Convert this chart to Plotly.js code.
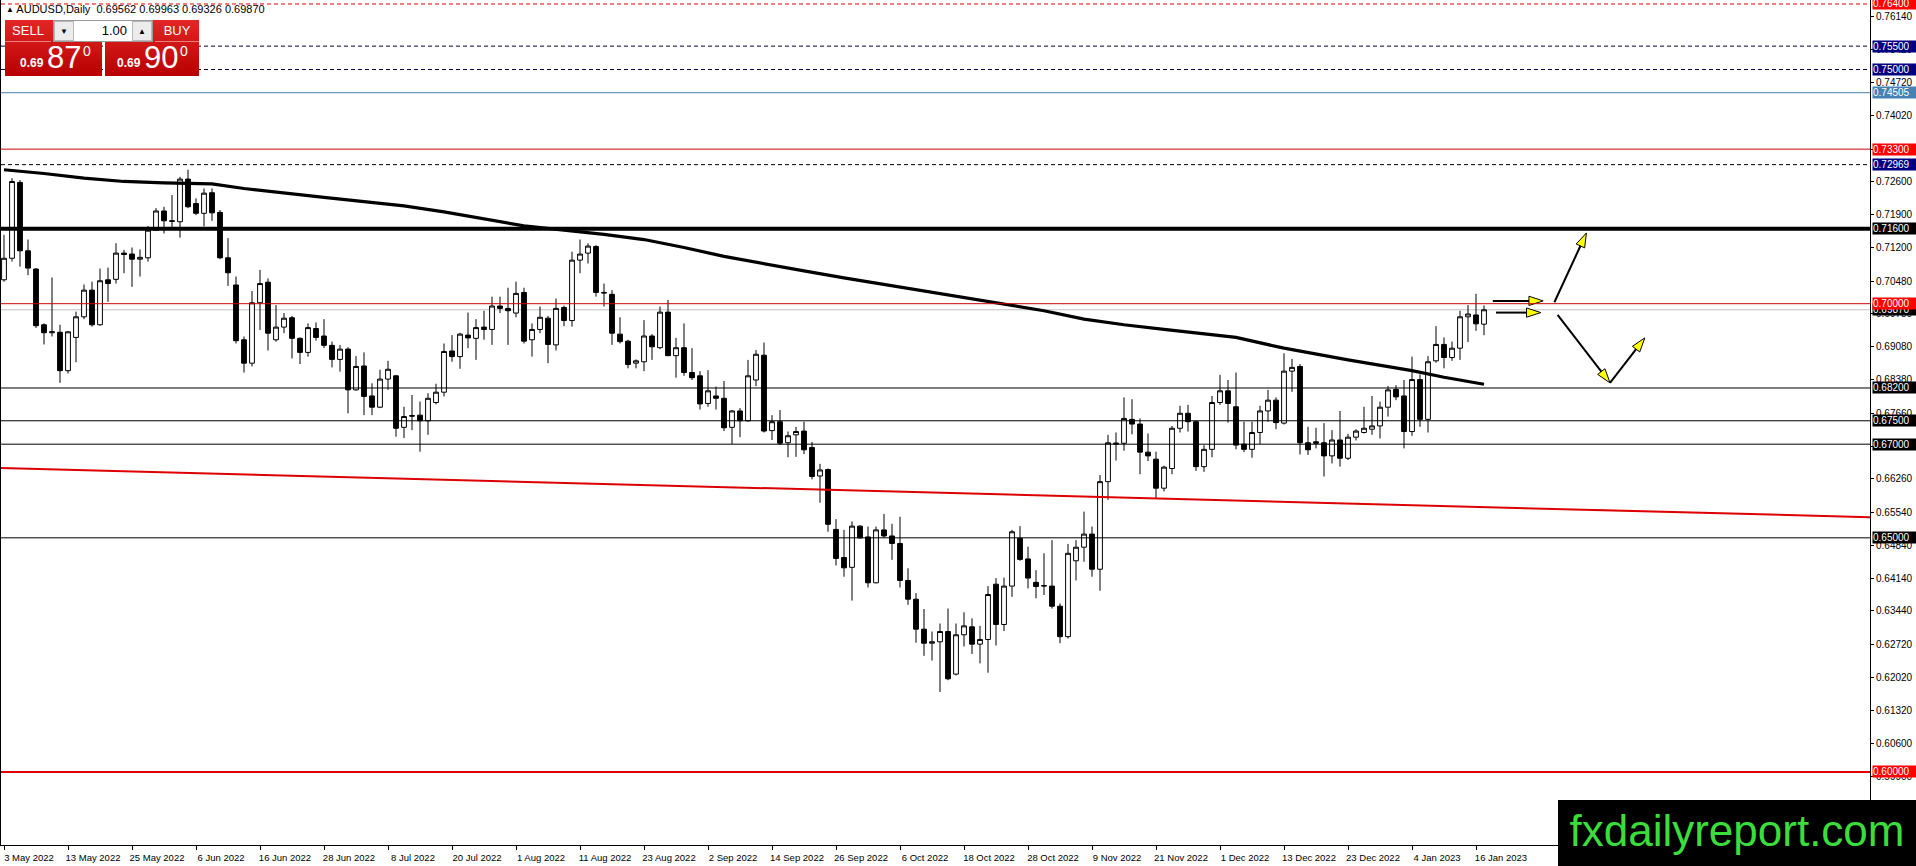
<!DOCTYPE html>
<html><head><meta charset="utf-8">
<script src="https://cdn.plot.ly/plotly-3.0.1.min.js"></script>
<style>
html,body{margin:0;padding:0;background:#fff;overflow:hidden;width:1916px;height:866px;}
#chart{position:absolute;left:0;top:0;width:1916px;height:866px;}
.ov{position:absolute;font-family:Tahoma,'Liberation Sans','DejaVu Sans',Arial,sans-serif;white-space:nowrap;}
.blk{background:linear-gradient(#e32626,#b80000);}
.lbl{color:#fff;font-size:13px;text-align:center;line-height:21px;border-bottom:1px solid rgba(255,255,255,0.45);}
.sm{color:#fff;font-size:12px;font-weight:bold;}
.big{color:#fff;font-size:31px;line-height:31px;}
.sup{color:#fff;font-size:14px;}
.lot{background:#fff;border:1px solid #9a9a9a;box-sizing:border-box;}
.lb{position:absolute;top:0;width:20px;height:20px;background:#ececec;border:1px solid #b8b8b8;box-sizing:border-box;font-size:8px;text-align:center;line-height:19px;color:#000;}
#hdr{left:6px;top:3px;font-size:11px;color:#000;}
#wm{left:1558px;top:800px;width:358px;height:66px;background:#000;color:#3add3a;font-family:'Liberation Sans',Arial,sans-serif;font-size:44px;line-height:62px;text-align:center;}
</style></head><body>
<div id="chart"></div>
<div id="hdr" class="ov"></div>
<div class="ov blk" style="left:5px;top:20px;width:97px;height:56px;"></div>
<div class="ov blk" style="left:105px;top:20px;width:94px;height:56px;"></div>
<div class="ov lbl" style="left:5px;top:20px;width:46px;height:21px;">SELL</div>
<div class="ov lbl" style="left:155px;top:20px;width:44px;height:21px;">BUY</div>
<div class="ov lot" style="left:53px;top:20px;width:100px;height:22px;">
  <div class="lb" style="left:0;">&#9660;</div>
  <div style="position:absolute;right:25px;top:2px;font-size:13px;color:#000;">1.00</div>
  <div class="lb" style="right:0;">&#9650;</div>
</div>
<div class="ov sm" id="sellSmall" style="left:20px;top:56px;"></div>
<div class="ov big" id="sellBig" style="left:47px;top:42px;"></div>
<div class="ov sup" id="sellSup" style="left:83px;top:43px;"></div>
<div class="ov sm" id="buySmall" style="left:117px;top:56px;"></div>
<div class="ov big" id="buyBig" style="left:144px;top:42px;"></div>
<div class="ov sup" id="buySup" style="left:180px;top:43px;"></div>
<div id="wm" class="ov">fxdailyreport.com</div>
<script>
// ---------------- DATA ----------------
const symbol = "AUDUSD,Daily";
const firstDate = "2022-05-03";
const open = [
0.7051,0.7097,0.7259,0.7113,0.7074,0.6955,0.6938,0.6939,0.6857,0.6928,
0.6972,0.7029,0.6955,0.7051,0.7052,0.7108,0.7106,0.7095,0.7098,0.7157,
0.7198,0.7177,0.7175,0.7266,0.7214,0.7193,0.7237,0.7195,0.7098,0.7040,
0.6923,0.6873,0.7002,0.7046,0.6923,0.6950,0.6970,0.6926,0.6896,0.6947,
0.6931,0.6911,0.6881,0.6903,0.6816,0.6867,0.6803,0.6779,0.6839,0.6846,
0.6736,0.6761,0.6762,0.6750,0.6789,0.6811,0.6899,0.6887,0.6933,0.6926,
0.6950,0.6945,0.6995,0.6990,0.6980,0.7024,0.6923,0.6945,0.6969,0.6912,
0.6992,0.6964,0.7093,0.7108,0.7122,0.7024,0.7020,0.6935,0.6920,0.6873,
0.6876,0.6931,0.6906,0.6982,0.6889,0.6906,0.6853,0.6846,0.6787,0.6803,
0.6798,0.6736,0.6771,0.6750,0.6837,0.6890,0.6729,0.6748,0.6703,0.6720,
0.6728,0.6693,0.6632,0.6646,0.6518,0.6458,0.6437,0.6525,0.6502,0.6404,
0.6517,0.6504,0.6488,0.6409,0.6369,0.6305,0.6275,0.6278,0.6300,0.6209,
0.6293,0.6310,0.6273,0.6283,0.6401,0.6315,0.6397,0.6499,0.6455,0.6405,
0.6397,0.6397,0.6354,0.6289,0.6451,0.6480,0.6508,0.6433,0.6620,0.6700,
0.6702,0.6753,0.6743,0.6683,0.6668,0.6606,0.6648,0.6734,0.6766,0.6748,
0.6652,0.6689,0.6789,0.6814,0.6780,0.6700,0.6689,0.6725,0.6771,0.6794,
0.6745,0.6856,0.6866,0.6703,0.6705,0.6703,0.6675,0.6709,0.6670,0.6715,
0.6725,0.6732,0.6739,0.6779,0.6817,0.6803,0.6727,0.6838,0.6753,0.6878,
0.6913,0.6885,0.6905,0.6972,0.6976,0.69562];
const high = [
0.7147,0.7268,0.7264,0.7137,0.7076,0.6958,0.7056,0.6955,0.6941,0.6983,
0.7041,0.7047,0.7075,0.7077,0.7129,0.7115,0.7120,0.7116,0.7166,0.7204,
0.7207,0.7232,0.7271,0.7286,0.7225,0.7246,0.7246,0.7200,0.7140,0.7058,
0.6930,0.7027,0.7072,0.7054,0.6997,0.6980,0.6974,0.6928,0.6958,0.6960,
0.6967,0.6919,0.6912,0.6907,0.6888,0.6896,0.6830,0.6859,0.6878,0.6848,
0.6780,0.6805,0.6791,0.6809,0.6829,0.6915,0.6933,0.6938,0.6981,0.6967,
0.6985,0.7015,0.7015,0.7034,0.7047,0.7034,0.6958,0.6994,0.6974,0.7011,
0.6996,0.7111,0.7137,0.7129,0.7125,0.7043,0.7029,0.6971,0.6923,0.6881,
0.6965,0.6935,0.6994,0.7008,0.6927,0.6958,0.6905,0.6856,0.6858,0.6823,
0.6835,0.6773,0.6777,0.6880,0.6901,0.6917,0.6762,0.6773,0.6727,0.6737,
0.6748,0.6705,0.6658,0.6648,0.6540,0.6517,0.6535,0.6527,0.6524,0.6524,
0.6551,0.6530,0.6545,0.6435,0.6382,0.6348,0.6300,0.6317,0.6349,0.6317,
0.6341,0.6328,0.6312,0.6397,0.6414,0.6415,0.6517,0.6525,0.6481,0.6431,
0.6467,0.6495,0.6360,0.6487,0.6495,0.6556,0.6524,0.6634,0.6720,0.6725,
0.6800,0.6796,0.6755,0.6723,0.6684,0.6654,0.6739,0.6782,0.6784,0.6750,
0.6698,0.6803,0.6848,0.6837,0.6853,0.6748,0.6748,0.6782,0.6816,0.6800,
0.6894,0.6882,0.6871,0.6737,0.6735,0.6745,0.6730,0.6771,0.6722,0.6732,
0.6780,0.6803,0.6791,0.6824,0.6826,0.6837,0.6887,0.6849,0.6888,0.6952,
0.6928,0.6919,0.6985,0.6997,0.7021,0.69963];
const low = [
0.7047,0.7090,0.7079,0.7061,0.6948,0.6913,0.6930,0.6831,0.6851,0.6875,
0.6967,0.6951,0.6953,0.7004,0.7043,0.7065,0.7036,0.7058,0.7090,0.7156,
0.7150,0.7157,0.7141,0.7204,0.7189,0.7165,0.7177,0.7095,0.7038,0.6915,
0.6853,0.6866,0.6944,0.6900,0.6919,0.6937,0.6883,0.6871,0.6887,0.6921,
0.6905,0.6864,0.6855,0.6766,0.6814,0.6762,0.6762,0.6777,0.6816,0.6716,
0.6713,0.6730,0.6684,0.6720,0.6785,0.6802,0.6876,0.6861,0.6905,0.6880,
0.6923,0.6912,0.6980,0.6912,0.6971,0.6915,0.6887,0.6937,0.6873,0.6900,
0.6952,0.6951,0.7065,0.7086,0.7015,0.6994,0.6912,0.6915,0.6862,0.6862,
0.6856,0.6880,0.6903,0.6888,0.6842,0.6846,0.6837,0.6774,0.6780,0.6774,
0.6728,0.6700,0.6715,0.6748,0.6824,0.6725,0.6709,0.6698,0.6672,0.6673,
0.6679,0.6625,0.6575,0.6513,0.6441,0.6417,0.6366,0.6498,0.6394,0.6403,
0.6500,0.6453,0.6394,0.6357,0.6276,0.6248,0.6238,0.6171,0.6196,0.6206,
0.6268,0.6252,0.6232,0.6212,0.6270,0.6301,0.6374,0.6451,0.6392,0.6371,
0.6378,0.6349,0.6275,0.6285,0.6409,0.6449,0.6417,0.6387,0.6581,0.6665,
0.6686,0.6721,0.6636,0.6664,0.6584,0.6599,0.6636,0.6725,0.6727,0.6643,
0.6641,0.6672,0.6784,0.6746,0.6689,0.6683,0.6671,0.6700,0.6748,0.6732,
0.6742,0.6812,0.6678,0.6677,0.6691,0.6631,0.6659,0.6652,0.6666,0.6708,
0.6723,0.6720,0.6712,0.6759,0.6794,0.6691,0.6718,0.6737,0.6725,0.6874,
0.6862,0.6878,0.6880,0.6918,0.6942,0.69326];
const close = [
0.7097,0.7261,0.7113,0.7076,0.6953,0.6938,0.6940,0.6857,0.6940,0.6972,
0.7029,0.6955,0.7049,0.7043,0.7108,0.7105,0.7095,0.7099,0.7157,0.7198,
0.7177,0.7176,0.7266,0.7207,0.7193,0.7236,0.7194,0.7098,0.7066,0.6921,
0.6873,0.7002,0.7043,0.6937,0.6950,0.6969,0.6926,0.6896,0.6949,0.6928,
0.6911,0.6881,0.6903,0.6816,0.6866,0.6802,0.6779,0.6839,0.6860,0.6734,
0.6759,0.6760,0.6750,0.6798,0.6811,0.6898,0.6887,0.6935,0.6927,0.6949,
0.6945,0.6995,0.6990,0.6985,0.7022,0.6920,0.6945,0.6971,0.6913,0.6990,
0.6964,0.7093,0.7106,0.7123,0.7024,0.7023,0.6937,0.6919,0.6870,0.6878,
0.6931,0.6908,0.6982,0.6889,0.6906,0.6853,0.6842,0.6786,0.6814,0.6798,
0.6735,0.6771,0.6750,0.6846,0.6892,0.6728,0.6748,0.6702,0.6718,0.6727,
0.6688,0.6631,0.6645,0.6529,0.6456,0.6436,0.6525,0.6500,0.6404,0.6517,
0.6504,0.6488,0.6409,0.6369,0.6305,0.6275,0.6278,0.6300,0.6199,0.6293,
0.6312,0.6273,0.6283,0.6379,0.6315,0.6397,0.6513,0.6454,0.6414,0.6396,
0.6398,0.6354,0.6289,0.6467,0.6480,0.6508,0.6433,0.6620,0.6703,0.6702,
0.6755,0.6743,0.6683,0.6675,0.6606,0.6651,0.6734,0.6766,0.6748,0.6652,
0.6689,0.6789,0.6814,0.6787,0.6698,0.6689,0.6725,0.6771,0.6794,0.6746,
0.6856,0.6864,0.6703,0.6688,0.6702,0.6675,0.6709,0.6670,0.6715,0.6728,
0.6734,0.6739,0.6779,0.6816,0.6801,0.6727,0.6838,0.6753,0.6876,0.6913,
0.6885,0.6905,0.6972,0.6978,0.6957,0.69870];

// moving average (read at sampled bars)
const maBar = [0,5,10,15,20,26,30,35,40,45,50,55,60,65,70,75,80,85,90,95,100,105,110,115,120,126,130,135,140,145,150,154,160,168,176,180,185];
const maVal = [0.7286,0.7278,0.7268,0.7261,0.7258,0.7256,0.7246,0.7236,0.7227,0.7218,0.7209,0.7196,0.7181,0.7166,0.7157,0.7148,0.7137,0.7120,0.7101,0.7085,0.7070,0.7055,0.7041,0.7027,0.7014,0.6997,0.6985,0.6967,0.6955,0.6945,0.6936,0.6928,0.6905,0.6880,0.6857,0.6843,0.6828];

// red trendline (bar positions, prices)
const trendBar = [-0.5, 233.25];
const trendVal = [0.6649, 0.6544];

// horizontal levels
const levelVal = [0.764, 0.755, 0.750, 0.74505, 0.733, 0.72969, 0.716, 0.700, 0.682, 0.675, 0.670, 0.650, 0.600];

// projection arrows (bar positions, prices)
const arrowA_bar = [186.1, 192.4], arrowA_val = [0.7006, 0.7006];
const arrowB_bar = [186.5, 192.1], arrowB_val = [0.6981, 0.6981];
const arrowUp_bar = [193.8, 197.8], arrowUp_val = [0.7003, 0.7151];
const arrowDn_bar = [194.2, 200.75, 205.1], arrowDn_val = [0.6976, 0.6831, 0.6927];

// axis ticks
const yTickVals = [0.76140,0.75420,0.74720,0.74020,0.73300,0.72600,0.71900,0.71200,0.70480,0.69780,0.69080,0.68380,0.67660,0.66960,0.66260,0.65540,0.64840,0.64140,0.63440,0.62720,0.62020,0.61320,0.60600,0.59900];
const xTickDates = ['2022-05-03','2022-05-13','2022-05-25','2022-06-06','2022-06-16','2022-06-28','2022-07-08','2022-07-20','2022-08-01','2022-08-11','2022-08-23','2022-09-02','2022-09-14','2022-09-26','2022-10-06','2022-10-18','2022-10-28','2022-11-09','2022-11-21','2022-12-01','2022-12-13','2022-12-23','2023-01-04','2023-01-16'];
const xTickLabels = ['3 May 2022','13 May 2022','25 May 2022','6 Jun 2022','16 Jun 2022','28 Jun 2022','8 Jul 2022','20 Jul 2022','1 Aug 2022','11 Aug 2022','23 Aug 2022','2 Sep 2022','14 Sep 2022','26 Sep 2022','6 Oct 2022','18 Oct 2022','28 Oct 2022','9 Nov 2022','21 Nov 2022','1 Dec 2022','13 Dec 2022','23 Dec 2022','4 Jan 2023','16 Jan 2023'];
const sellPrice = 0.69870, buyPrice = 0.69900;

// ---------------- BUILD ----------------
const dates = [];
(function(){
  const d = new Date(firstDate + 'T00:00:00Z');
  while (dates.length < open.length) {
    const w = d.getUTCDay();
    if (w > 0 && w < 6) dates.push(d.toISOString().slice(0,10));
    d.setUTCDate(d.getUTCDate() + 1);
  }
})();
const bars = dates.map((_, i) => i);
const xTickVals = xTickDates.map(d => dates.indexOf(d));
const last = open.length - 1;
const bid = close[last];

const FONT = "Tahoma, 'Liberation Sans Narrow', 'Liberation Sans', Arial, sans-serif";

// header
document.getElementById('hdr').innerHTML = '<span style="font-size:8px;position:relative;top:-1px;">&#9650;</span> ' + symbol + '&nbsp; ' +
  [open[last], high[last], low[last], close[last]].map(v => v.toFixed(5)).join(' ');
function splitPrice(p){ const s = p.toFixed(5); return [s.slice(0,4), s.slice(4,6), s.slice(6)]; }
const sp = splitPrice(sellPrice), bp = splitPrice(buyPrice);
document.getElementById('sellSmall').textContent = sp[0];
document.getElementById('sellBig').textContent = sp[1];
document.getElementById('sellSup').textContent = sp[2];
document.getElementById('buySmall').textContent = bp[0];
document.getElementById('buyBig').textContent = bp[1];
document.getElementById('buySup').textContent = bp[2];

// level styles
const levelStyle = [
  {color:'#e00000', width:1, dash:'dash', box:'#ff0000'},
  {color:'#000040', width:1, dash:'dash', box:'#000080'},
  {color:'#000040', width:1, dash:'dash', box:'#000080'},
  {color:'#4a7fa8', width:1, dash:'solid', box:'#4682b4'},
  {color:'#d00000', width:1, dash:'solid', box:'#ff0000'},
  {color:'#000000', width:1, dash:'dash', box:'#000080'},
  {color:'#000000', width:4, dash:'solid', box:'#000000'},
  {color:'#d00000', width:1, dash:'solid', box:'#ff0000'},
  {color:'#000000', width:1, dash:'solid', box:'#000000'},
  {color:'#000000', width:1, dash:'solid', box:'#000000'},
  {color:'#000000', width:1, dash:'solid', box:'#000000'},
  {color:'#000000', width:1, dash:'solid', box:'#000000'},
  {color:'#e00000', width:2, dash:'solid', box:'#ff0000'}
];

const shapes = [];
// bid line
shapes.push({type:'line', xref:'paper', x0:0, x1:1, yref:'y', y0:bid, y1:bid, line:{color:'#c0c0c0', width:1}, layer:'below'});
levelVal.forEach((v, i) => {
  const s = levelStyle[i];
  shapes.push({type:'line', xref:'paper', x0:0, x1:1, yref:'y', y0:v, y1:v, line:{color:s.color, width:s.width, dash:s.dash === 'dash' ? '4px,3px' : 'solid'}});
});
shapes.push({type:'line', xref:'x', yref:'y', x0:trendBar[0], x1:trendBar[1], y0:trendVal[0], y1:trendVal[1], line:{color:'#dd0000', width:2}});

const annotations = [];
function priceLabel(v, bg){
  annotations.push({xref:'paper', x:1, xanchor:'left', xshift:2, yref:'y', y:v, yanchor:'middle',
    text:v.toFixed(5), showarrow:false, bgcolor:bg, borderpad:0, width:43, align:'left',
    font:{family:FONT, size:10, color:'#ffffff'}});
}
priceLabel(bid, '#000000');
levelVal.forEach((v, i) => priceLabel(v, levelStyle[i].box));

const traces = [];
traces.push({
  type:'candlestick', x:bars, open:open, high:high, low:low, close:close,
  increasing:{line:{color:'#000', width:1}, fillcolor:'#ffffff'},
  decreasing:{line:{color:'#000', width:1}, fillcolor:'#000000'},
  whiskerwidth:0, hoverinfo:'skip', showlegend:false
});
traces.push({type:'scatter', mode:'lines', x:maBar, y:maVal, line:{color:'#000', width:3.2}, hoverinfo:'skip', showlegend:false});
function arrow(xb, yv){
  traces.push({type:'scatter', mode:'lines+markers', x:xb, y:yv, line:{color:'#000', width:2},
    marker:{symbol:'arrow', size:15, angleref:'previous', color:'#ffff00', line:{color:'#000', width:1}},
    hoverinfo:'skip', showlegend:false, cliponaxis:false});
}
arrow(arrowA_bar, arrowA_val);
arrow(arrowB_bar, arrowB_val);
arrow(arrowUp_bar, arrowUp_val);
arrow(arrowDn_bar, arrowDn_val);

const layout = {
  width:1916, height:866,
  margin:{l:1, r:46, t:0, b:21, pad:0},
  paper_bgcolor:'#ffffff', plot_bgcolor:'#ffffff',
  showlegend:false, hovermode:false, dragmode:false,
  boxgap:0.4, boxgroupgap:0,
  xaxis:{type:'linear', range:[-0.5 + 0.125, 233.25], showgrid:false, zeroline:false,
    showline:true, linecolor:'#000', linewidth:1,
    tickmode:'array', tickvals:xTickVals, ticktext:xTickLabels, ticks:'outside', ticklen:4, tickcolor:'#000',
    tickangle:0, ticklabelshift:25, tickfont:{family:FONT, size:9.5, color:'#000'},
    rangeslider:{visible:false}, fixedrange:true},
  yaxis:{type:'linear', side:'right', range:[0.58441, 0.76485], showgrid:false, zeroline:false,
    showline:true, mirror:true, linecolor:'#000', linewidth:1,
    tickmode:'array', tickvals:yTickVals, ticktext:yTickVals.map(v => v.toFixed(5)),
    ticks:'outside', ticklen:3, tickcolor:'#000', tickfont:{family:FONT, size:10, color:'#000'}, fixedrange:true},
  shapes:shapes, annotations:annotations
};
Plotly.newPlot('chart', traces, layout, {staticPlot:true, displayModeBar:false});
</script>
</body></html>
